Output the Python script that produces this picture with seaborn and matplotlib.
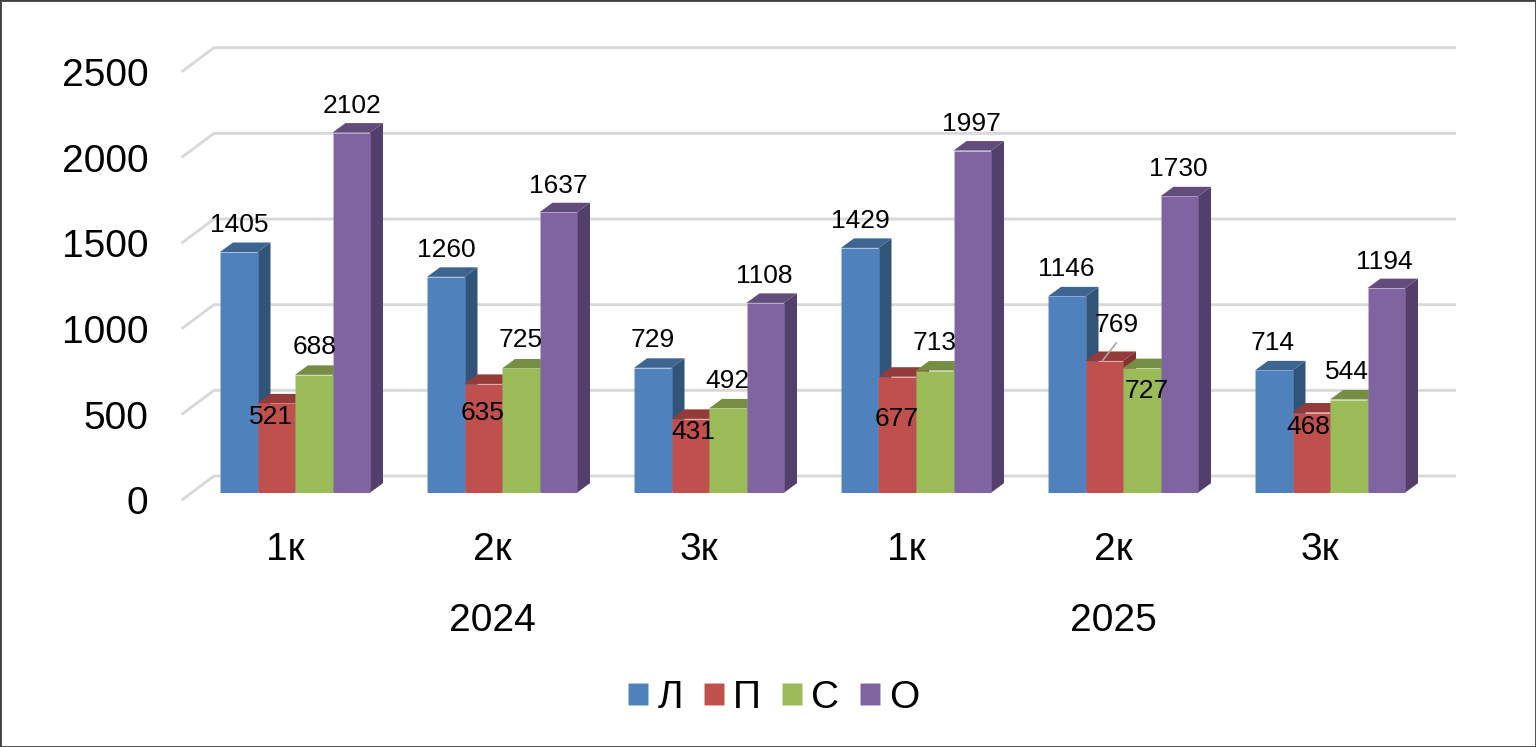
import matplotlib
matplotlib.use("Agg")
import matplotlib.pyplot as plt
import matplotlib.transforms as mtransforms
from matplotlib.lines import Line2D
from matplotlib.patches import Polygon, Rectangle
import pandas as pd
import seaborn as sns

# chart values
periods = ["2024 1к", "2024 2к", "2024 3к", "2025 1к", "2025 2к", "2025 3к"]
period_labels = ["1к", "2к", "3к", "1к", "2к", "3к"]
years = ["2024", "2025"]
series_names = ["Л", "П", "С", "О"]
values_l = [1405, 1260, 729, 1429, 1146, 714]
values_p = [521, 635, 431, 677, 769, 468]
values_s = [688, 725, 492, 713, 727, 544]
values_o = [2102, 1637, 1108, 1997, 1730, 1194]
y_ticks = [0, 500, 1000, 1500, 2000, 2500]

# colours: front, top, side
front_colors = ["#4F81BD", "#C0504D", "#9BBB59", "#8064A2"]
top_colors = ["#3E6591", "#943B39", "#768E44", "#624C7C"]
side_colors = ["#325479", "#7F3230", "#647A3A", "#533F6B"]

# label nudges in pixels (dx, dy down), relative to the top middle of each bar
nudges_l = [(0, -29), (0, -29), (0, -30), (0, -29), (-1, -29), (-2, -29)]
nudges_p = [(-6, 12), (-1, 27), (3, 11), (-1, 40), (12, -38), (-3, 12)]
nudges_s = [(0, -30), (-1, -30), (-1, -29), (-1, -30), (4, 21), (-2, -30)]
nudges_o = [(0, -29), (0, -28), (-1, -29), (-1, -29), (-1, -29), (-2, -28)]

DEPTH_X = 13
DEPTH_Y = 9.5
GRID_COLOR = "#D9D9D9"
FIG_W, FIG_H = 1536, 747


# pixel position of a data point, y counted upwards
def to_px(ax, x, y):
    return ax.transData.transform((x, y))


# draw the back wall lines with their short diagonal at the left
def draw_grid(ax):
    for tick in y_ticks:
        px, py = to_px(ax, -0.5, tick)
        xs = [181.5, 214, 1456]
        ys = [py - 7.5, py + 16.7, py + 16.7]
        ax.add_line(Line2D(xs, ys, transform=mtransforms.IdentityTransform(), color=GRID_COLOR,
                           lw=2.1, zorder=1, clip_on=False, solid_capstyle="butt"))


# add the side and top faces to the flat bars from seaborn
def draw_depth(ax):
    identity = mtransforms.IdentityTransform()
    for i, container in enumerate(ax.containers):
        for bar in container:
            bar.set_zorder(4 + i * 2)
            x0, y0 = to_px(ax, bar.get_x(), 0)
            x1, y1 = to_px(ax, bar.get_x() + bar.get_width(), bar.get_height())
            side = [(x1, y0), (x1 + DEPTH_X, y0 + DEPTH_Y), (x1 + DEPTH_X, y1 + DEPTH_Y), (x1, y1)]
            top = [(x0, y1), (x0 + DEPTH_X, y1 + DEPTH_Y), (x1 + DEPTH_X, y1 + DEPTH_Y), (x1, y1)]
            ax.add_patch(Polygon(side, closed=True, transform=identity, facecolor=side_colors[i],
                                 edgecolor="none", zorder=3 + i * 2, clip_on=False))
            ax.add_patch(Polygon(top, closed=True, transform=identity, facecolor=top_colors[i],
                                 edgecolor="none", zorder=3 + i * 2, clip_on=False))


# value labels above or on the bars
def draw_labels(ax):
    identity = mtransforms.IdentityTransform()
    nudges = [nudges_l, nudges_p, nudges_s, nudges_o]
    for i, container in enumerate(ax.containers):
        for j, bar in enumerate(container):
            cx = bar.get_x() + bar.get_width() / 2
            px, py = to_px(ax, cx, bar.get_height())
            dx, dy = nudges[i][j]
            ax.text(px + dx + 0.5, py - dy - 2, f"{bar.get_height():.0f}", transform=identity, fontsize=19,
                    ha="center", va="center", color="black", zorder=20)
            # the one leader line of the chart
            if series_names[i] == "П" and j == 4:
                ax.add_line(Line2D([px - 2, px + 12], [py, py + 18], transform=identity, color="#A6A6A6",
                                   lw=1.2, zorder=19, clip_on=False))


def main():
    sns.set_style("white")
    plt.rcParams["font.family"] = ["Liberation Sans", "DejaVu Sans"]
    plt.rcParams["text.color"] = "black"

    data = pd.DataFrame({
        "period": periods * 4,
        "series": sum([[name] * len(periods) for name in series_names], []),
        "value": values_l + values_p + values_s + values_o,
    })

    fig = plt.figure(figsize=(FIG_W / 100, FIG_H / 100), dpi=100)
    ax = fig.add_axes([191.5 / FIG_W, (FIG_H - 492.7) / FIG_H, 1242 / FIG_W, 428.3 / FIG_H])

    sns.barplot(data=data, x="period", y="value", hue="series", order=periods, hue_order=series_names,
                palette=front_colors, width=150 / 207, gap=0, saturation=1, linewidth=0.5,
                edgecolor=(1, 1, 1, 0.1), ax=ax)

    ax.set_xlim(-0.5, 5.5)
    ax.set_ylim(0, 2500)
    ax.set_xlabel("")
    ax.set_ylabel("")
    sns.despine(ax=ax, left=True, bottom=True)
    ax.grid(False)

    # tick labels sit lower and more to the left than the bars
    ax.set_yticks(y_ticks)
    ax.set_xticks(range(len(periods)))
    ax.set_xticklabels(period_labels)
    ax.tick_params(axis="both", length=0, labelsize=28, labelcolor="black")
    ax.tick_params(axis="y", pad=31.2)
    ax.tick_params(axis="x", pad=28.6)
    for label in ax.get_yticklabels():
        label.set_transform(label.get_transform() + mtransforms.Affine2D().translate(0, -7.5))
    for label in ax.get_xticklabels():
        label.set_transform(label.get_transform() + mtransforms.Affine2D().translate(-10, 0))

    # years under the quarter labels
    year_trans = ax.get_xaxis_transform() + mtransforms.Affine2D().translate(-10, 0)
    for year, pos in zip(years, [1, 4]):
        ax.text(pos, -128.5 / 428.3, year, transform=year_trans, fontsize=28, ha="center", va="center",
                color="black")

    draw_grid(ax)
    draw_depth(ax)
    draw_labels(ax)

    sns.move_legend(ax, "center", bbox_to_anchor=(774 / FIG_W, (FIG_H - 698) / FIG_H),
                    bbox_transform=fig.transFigure, ncol=4, frameon=False, title="", fontsize=28,
                    handlelength=0.51, handleheight=0.51, handletextpad=0.24, columnspacing=0.54,
                    borderpad=0, borderaxespad=0, labelcolor="black")

    # outer frame of the picture
    fig.add_artist(Rectangle((0, 0), 1, 1, transform=fig.transFigure, fill=False, edgecolor="#404040", lw=2))

    fig.savefig("out.png", dpi=100)


if __name__ == "__main__":
    main()
